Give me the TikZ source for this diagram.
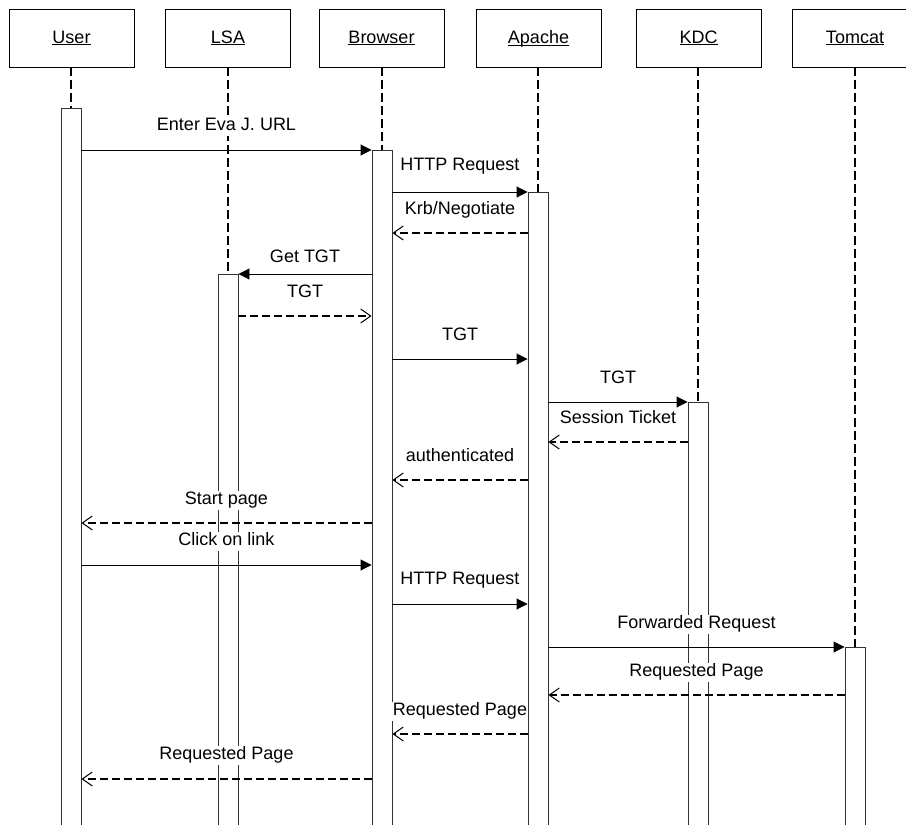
\documentclass[tikz,border=0pt]{standalone}
\usepackage{fontspec}
\setmainfont{Liberation Sans}
\usetikzlibrary{arrows.meta}
\newcommand{\hdr}[1]{\underline{\raisebox{0pt}[\height][0pt]{#1}}}
\begin{document}
\begin{tikzpicture}[x=1pt,y=-1pt,
  font=\fontsize{18}{21}\selectfont,
  actor/.style={draw=black, line width=0.8pt, minimum width=125pt, minimum height=58pt, inner sep=0pt},
  lifeline/.style={line width=2pt, dash pattern=on 9pt off 4pt},
  bar/.style={draw=black!80, line width=0.9pt, fill=white, minimum width=20pt, minimum height=800pt, anchor=north, inner sep=0pt},
  msg/.style={draw=black, line width=0.9pt, -{Triangle[length=11pt,width=11pt]}},
  ret/.style={draw=black, line width=1.6pt, dash pattern=on 8pt off 4pt, -{Straight Barb[length=10pt,width=14pt,line width=1pt]}},
  lbl/.style={fill=white, inner sep=1pt, text height=13pt, text depth=4pt, yshift=23pt}
]
\useasboundingbox (0,0) rectangle (906,825);
\clip (0,0) rectangle (906,825);

% actors
\node[actor] (u) at (71.5,38) {\hdr{User}};
\node[actor] (l) at (228,38) {\hdr{LSA}};
\node[actor] (b) at (381.5,38) {\hdr{Browser}};
\node[actor] (a) at (538.5,38) {\hdr{Apache}};
\node[actor] (k) at (698.5,38) {\hdr{KDC}};
\node[actor] (t) at (855,38) {\hdr{Tomcat}};

% activation bars
\node[bar] (ub) at (71,108) {};
\node[bar] (lb) at (228,274) {};
\node[bar] (bb) at (382,150) {};
\node[bar] (ab) at (538,192) {};
\node[bar] (kb) at (698,402) {};
\node[bar] (tb) at (855,647) {};

% lifelines
\draw[lifeline] (ub.north |- u.south) -- (ub.north);
\draw[lifeline] (lb.north |- l.south) -- (lb.north);
\draw[lifeline] (bb.north |- b.south) -- (bb.north);
\draw[lifeline] (ab.north |- a.south) -- (ab.north);
\draw[lifeline] (kb.north |- k.south) -- (kb.north);
\draw[lifeline] (tb.north |- t.south) -- (tb.north);

% messages
\draw[msg] (ub.east |- 0,150) -- node[lbl, midway, yshift=1pt] {Enter Eva J. URL} (bb.west |- 0,150);
\draw[msg] (bb.east |- 0,192) -- node[lbl, midway, yshift=3pt] {HTTP Request} (ab.west |- 0,192);
\draw[ret] (ab.west |- 0,233) -- node[lbl, midway] {Krb/Negotiate} (bb.east |- 0,233);
\draw[msg] (bb.west |- 0,274) -- node[lbl, midway, yshift=-7pt] {Get TGT} (lb.east |- 0,274);
\draw[ret] (lb.east |- 0,316) -- node[lbl, midway] {TGT} (bb.west |- 0,316);
\draw[msg] (bb.east |- 0,359) -- node[lbl, midway] {TGT} (ab.west |- 0,359);
\draw[msg] (ab.east |- 0,402) -- node[lbl, midway] {TGT} (kb.west |- 0,402);
\draw[ret] (kb.west |- 0,442) -- node[lbl, midway] {Session Ticket} (ab.east |- 0,442);
\draw[ret] (ab.west |- 0,480) -- node[lbl, midway] {authenticated} (bb.east |- 0,480);
\draw[ret] (bb.west |- 0,523) -- node[lbl, midway] {Start page} (ub.east |- 0,523);
\draw[msg] (ub.east |- 0,565) -- node[lbl, midway, yshift=1pt] {Click on link} (bb.west |- 0,565);
\draw[msg] (bb.east |- 0,604) -- node[lbl, midway, yshift=1pt] {HTTP Request} (ab.west |- 0,604);
\draw[msg] (ab.east |- 0,647) -- node[lbl, midway] {Forwarded Request} (tb.west |- 0,647);
\draw[ret] (tb.west |- 0,695) -- node[lbl, midway] {Requested Page} (ab.east |- 0,695);
\draw[ret] (ab.west |- 0,734) -- node[lbl, midway] {Requested Page} (bb.east |- 0,734);
\draw[ret] (bb.west |- 0,779) -- node[lbl, midway, yshift=1pt] {Requested Page} (ub.east |- 0,779);
\end{tikzpicture}
\end{document}
